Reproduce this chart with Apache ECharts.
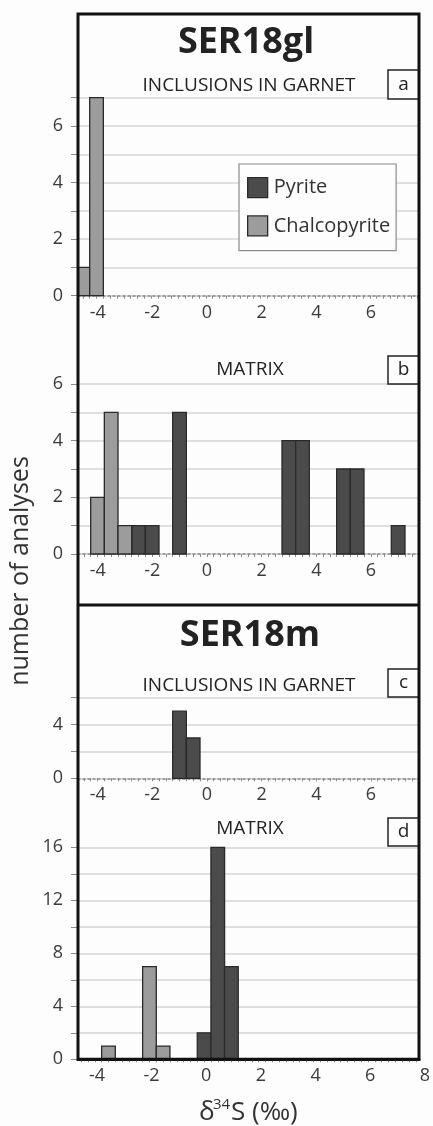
<!DOCTYPE html>
<html>
<head>
<meta charset="utf-8">
<script src="https://cdn.jsdelivr.net/npm/echarts@6/dist/echarts.min.js"></script>
<style>
html,body{margin:0;padding:0;background:#fdfdfd;}
#chart{width:433px;height:1126px;}
</style>
</head>
<body>
<div id="chart"></div>
<script>
// ---- data (bin start in ‰, bin width 0.5 ‰, counts) ----
const binWidth = 0.5;
const seriesNames = ['Pyrite', 'Chalcopyrite'];
// panel a: SER18gl inclusions in garnet
const aPyriteBins = [];
const aPyriteCounts = [];
const aChalcBins = [-4.5, -4.0];
const aChalcCounts = [1, 7];
// panel b: SER18gl matrix
const bPyriteBins = [-2.5, -2.0, -1.0, 3.0, 3.5, 5.0, 5.5, 7.0];
const bPyriteCounts = [1, 1, 5, 4, 4, 3, 3, 1];
const bChalcBins = [-4.0, -3.5, -3.0];
const bChalcCounts = [2, 5, 1];
// panel c: SER18m inclusions in garnet
const cPyriteBins = [-1.0, -0.5];
const cPyriteCounts = [5, 3];
const cChalcBins = [];
const cChalcCounts = [];
// panel d: SER18m matrix
const dPyriteBins = [0.0, 0.5, 1.0];
const dPyriteCounts = [2, 16, 7];
const dChalcBins = [-3.5, -2.0, -1.5];
const dChalcCounts = [1, 7, 1];
// tick labels
const xLabelsABC = [-4, -2, 0, 2, 4, 6];
const xLabelsD = [-4, -2, 0, 2, 4, 6, 8];
const yLabelsA = [0, 2, 4, 6];
const yLabelsB = [0, 2, 4, 6];
const yLabelsC = [0, 4];
const yLabelsD = [0, 4, 8, 12, 16];

// ---- layout / style ----
const FONT = 'Open Sans';
const LEFT = 78, RIGHT = 419, PXU = 27.33;
const colors = {Pyrite: '#4b4b4b', Chalcopyrite: '#9c9c9c'};
const panels = [
  {top: 97.7, bottom: 295.7, zero: 199, ymax: 7, yint: 1, ylab: yLabelsA, xlab: xLabelsABC, off: 8, solid: false,
   py: [aPyriteBins, aPyriteCounts], ch: [aChalcBins, aChalcCounts]},
  {top: 384, bottom: 554, zero: 200, ymax: 6, yint: 1, ylab: yLabelsB, xlab: xLabelsABC, off: 7, solid: false,
   py: [bPyriteBins, bPyriteCounts], ch: [bChalcBins, bChalcCounts]},
  {top: 697.7, bottom: 778.3, zero: 200, ymax: 6, yint: 2, ylab: yLabelsC, xlab: xLabelsABC, off: 7, solid: false,
   py: [cPyriteBins, cPyriteCounts], ch: [cChalcBins, cChalcCounts]},
  {top: 847.3, bottom: 1059.3, zero: 197.3, ymax: 16, yint: 2, ylab: yLabelsD, xlab: xLabelsD, off: 9, solid: true,
   py: [dPyriteBins, dPyriteCounts], ch: [dChalcBins, dChalcCounts]}
];

const grids = [], xAxes = [], yAxes = [], series = [];

function renderBin(params, api) {
  const x0 = api.value(0), x1 = api.value(1), y = api.value(2);
  const p0 = api.coord([x0, y]);
  const p1 = api.coord([x1, 0]);
  const rect = echarts.graphic.clipRectByRect(
    {x: p0[0], y: p0[1], width: p1[0] - p0[0], height: p1[1] - p0[1]},
    {x: params.coordSys.x, y: params.coordSys.y - 2, width: params.coordSys.width, height: params.coordSys.height + 2}
  );
  if (!rect) return;
  return {type: 'rect', shape: rect,
    style: {fill: api.visual('color'), stroke: '#2a2a2a', lineWidth: 1.3}};
}

panels.forEach((p, i) => {
  grids.push({left: LEFT, width: RIGHT - LEFT, top: p.top, height: p.bottom - p.top, containLabel: false});
  const min = (LEFT - p.zero) / PXU, max = (RIGHT - p.zero) / PXU;
  const ticks = [];
  for (let v = Math.ceil(min * 4) / 4; v <= max; v += 0.25) ticks.push(+v.toFixed(2));
  xAxes.push({
    type: 'value', gridIndex: i, min: min, max: max,
    axisLine: {show: true, onZero: false,
      lineStyle: p.solid ? {color: '#111', width: 3} : {color: '#8a8a8a', type: [2, 3], width: 1.5}},
    axisTick: {show: true, length: 3, customValues: ticks, lineStyle: {color: '#8a8a8a', width: 1}},
    axisLabel: {customValues: p.xlab, margin: 8, padding: [0, 0, 0, 2 * p.off],
      color: '#3a3a3a', fontSize: 18, fontFamily: FONT},
    splitLine: {show: false}
  });
  yAxes.push({
    type: 'value', gridIndex: i, min: 0, max: p.ymax, interval: p.yint, position: 'left',
    axisLine: {show: false, onZero: false},
    axisTick: {show: true, length: 7, lineStyle: {color: '#8a8a8a', width: 1}},
    axisLabel: {customValues: p.ylab, margin: 15, color: '#3a3a3a', fontSize: 18, fontFamily: FONT},
    splitLine: {show: true, lineStyle: {color: '#d4d4d4', width: 1.5}}
  });
  [['Pyrite', p.py], ['Chalcopyrite', p.ch]].forEach(([name, arr]) => {
    series.push({
      type: 'custom', name: name, xAxisIndex: i, yAxisIndex: i,
      itemStyle: {color: colors[name]},
      renderItem: renderBin,
      encode: {x: [0, 1], y: 2},
      data: arr[0].map((b, k) => [b, b + binWidth, arr[1][k]])
    });
  });
});

const txt = (x, y, text, size, weight) => ({
  type: 'text', x: x, y: y, z: 100,
  style: {text: text, fontSize: size, fontWeight: weight || 'normal', fontFamily: FONT, fill: '#222',
    align: 'center', verticalAlign: 'middle'}
});

const boxLetter = (y, h, letter) => ([
  {type: 'rect', z: 99, shape: {x: 388, y: y, width: RIGHT - 388, height: h},
   style: {fill: '#fdfdfd', stroke: '#222', lineWidth: 1.5}},
  txt(403.5, y + h / 2, letter, 19)
]);

const graphics = [
  {type: 'rect', z: 101, shape: {x: LEFT, y: 14, width: RIGHT - LEFT, height: 1059.3 - 14},
   style: {fill: null, stroke: '#111', lineWidth: 3}},
  {type: 'line', z: 101, shape: {x1: LEFT, y1: 605, x2: RIGHT, y2: 605}, style: {stroke: '#111', lineWidth: 3}},
  txt(246, 43, 'SER18gl', 36, 'bold'),
  txt(249, 86, 'INCLUSIONS IN GARNET', 19),
  txt(250, 370, 'MATRIX', 19),
  txt(250, 636, 'SER18m', 36, 'bold'),
  txt(249, 686, 'INCLUSIONS IN GARNET', 19),
  txt(250, 829, 'MATRIX', 19),
  ...boxLetter(70, 29, 'a'),
  ...boxLetter(356, 28, 'b'),
  ...boxLetter(669, 28, 'c'),
  ...boxLetter(818, 28, 'd'),
  {type: 'text', x: 21, y: 571, rotation: Math.PI / 2, z: 100,
   style: {text: 'number of analyses', fontSize: 25, fontFamily: FONT, fill: '#333', align: 'center', verticalAlign: 'middle'}},
  {type: 'text', x: 199, y: 1113, z: 100,
   style: {text: 'δ', fontSize: 26, fontFamily: FONT, fill: '#333', align: 'left', verticalAlign: 'middle'}},
  {type: 'text', x: 213, y: 1105, z: 100,
   style: {text: '34', fontSize: 15, fontFamily: FONT, fill: '#333', align: 'left', verticalAlign: 'middle'}},
  {type: 'text', x: 231, y: 1113, z: 100,
   style: {text: 'S (‰)', fontSize: 26, fontFamily: FONT, fill: '#333', align: 'left', verticalAlign: 'middle'}}
];

const chart = echarts.init(document.getElementById('chart'), null, {renderer: 'canvas'});
chart.setOption({
  backgroundColor: '#fdfdfd',
  animation: false,
  grid: grids, xAxis: xAxes, yAxis: yAxes, series: series,
  legend: {
    data: seriesNames.map(n => ({name: n, icon: 'rect',
      itemStyle: {color: colors[n], borderColor: '#2a2a2a', borderWidth: 1.3}})),
    orient: 'vertical', left: 239, top: 164, z: 50,
    backgroundColor: '#fdfdfd', borderColor: '#8a8a8a', borderWidth: 1.2,
    padding: [13, 6, 14, 8], itemWidth: 20, itemHeight: 20, itemGap: 17,
    textStyle: {fontSize: 20, fontFamily: FONT, color: '#333', padding: [0, 0, 0, 1]},
    selectedMode: false
  },
  graphic: graphics
});
</script>
</body>
</html>
